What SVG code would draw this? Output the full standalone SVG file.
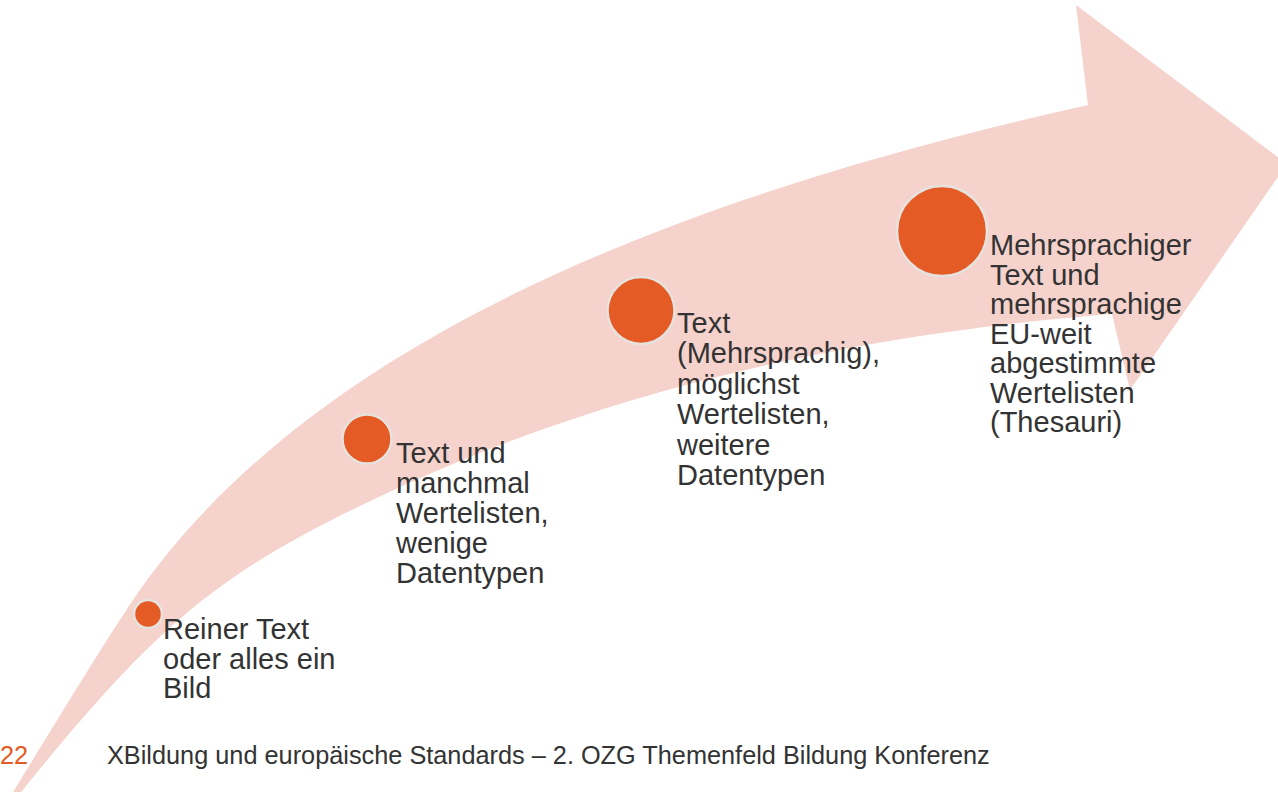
<svg xmlns="http://www.w3.org/2000/svg" width="1278" height="792" viewBox="0 0 1278 792">
<style>
.lbl{font-family:"Liberation Sans",Arial,sans-serif;font-size:29px;fill:#333333}
.dot{fill:#E55B25;stroke:#E6E3DE;stroke-width:2.5}
.foot{font-family:"Liberation Sans",Arial,sans-serif;font-size:25.3px;fill:#333333}
</style>
<rect width="1278" height="792" fill="#FFFFFF"/>
<g id="connectors">
<path id="arrow" fill="#F5D2CB" d="M1088,105 L1076,5 L1287,164 L1130,390 L1112,314 C868,333 622,385 400,487 C218,571 162,619 21,792 L-4,826 L13,792 C47,737 99,651 133,600 C302,352 649,203 1088,105 Z"/>
</g>
<g id="node1">
<circle class="dot" cx="148" cy="614" r="14"/>
<text class="lbl"><tspan x="163" y="639">Reiner Text</tspan><tspan x="163" y="668.5">oder alles ein</tspan><tspan x="163" y="698">Bild</tspan></text>
</g>
<g id="node2">
<circle class="dot" cx="367" cy="439" r="24.5"/>
<text class="lbl"><tspan x="396" y="463">Text und</tspan><tspan x="396" y="493">manchmal</tspan><tspan x="396" y="523">Wertelisten,</tspan><tspan x="396" y="553">wenige</tspan><tspan x="396" y="583">Datentypen</tspan></text>
</g>
<g id="node3">
<circle class="dot" cx="641" cy="310.5" r="33.5"/>
<text class="lbl"><tspan x="677" y="333">Text</tspan><tspan x="677" y="363.4">(Mehrsprachig),</tspan><tspan x="677" y="393.8">möglichst</tspan><tspan x="677" y="424.2">Wertelisten,</tspan><tspan x="677" y="454.6">weitere</tspan><tspan x="677" y="485">Datentypen</tspan></text>
</g>
<g id="node4">
<circle class="dot" cx="942" cy="231" r="45"/>
<text class="lbl"><tspan x="990" y="255">Mehrsprachiger</tspan><tspan x="990" y="284.5">Text und</tspan><tspan x="990" y="314">mehrsprachige</tspan><tspan x="990" y="343.5">EU-weit</tspan><tspan x="990" y="373">abgestimmte</tspan><tspan x="990" y="402.5">Wertelisten</tspan><tspan x="990" y="432">(Thesauri)</tspan></text>
</g>
<g id="footer">
<text class="foot" x="0" y="764" style="fill:#E55B25">22</text>
<text class="foot" x="107" y="764">XBildung und europäische Standards – 2. OZG Themenfeld Bildung Konferenz</text>
</g>
</svg>
